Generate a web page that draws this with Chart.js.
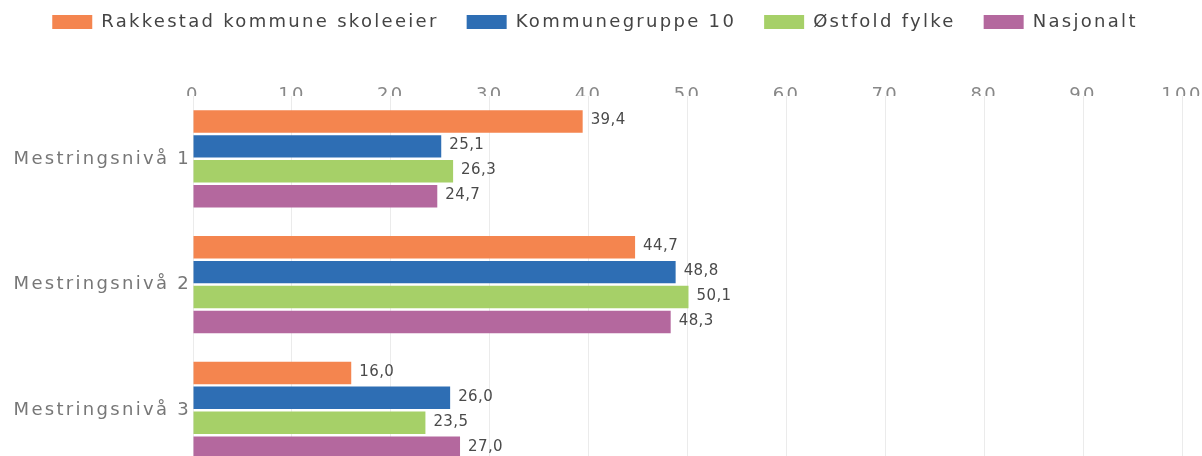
<!DOCTYPE html>
<html>
<head>
<meta charset="utf-8">
<script src="https://cdn.jsdelivr.net/npm/chart.js@4/dist/chart.umd.min.js"></script>
<style>
  html, body { margin: 0; padding: 0; background: #fff; overflow: hidden; }
  canvas { display: block; }
</style>
</head>
<body>
<canvas id="chart" width="1202" height="486"></canvas>
<script>
const categories = ['Mestringsnivå 1', 'Mestringsnivå 2', 'Mestringsnivå 3'];
const rakkestad = [39.4, 44.7, 16.0];
const kommunegruppe = [25.1, 48.8, 26.0];
const ostfold = [26.3, 50.1, 23.5];
const nasjonalt = [24.7, 48.3, 27.0];
const xTicks = [0, 10, 20, 30, 40, 50, 60, 70, 80, 90, 100];

const fontFamily = '"DejaVu Sans", Verdana, sans-serif';

// the original font is spaced out wider than DejaVu, so widen all text a bit
const spacing = {
  id: 'spacing',
  beforeUpdate(chart) { chart.ctx.letterSpacing = '2.3px'; },
  beforeDraw(chart) { chart.ctx.letterSpacing = '2.3px'; }
};

// value labels at the end of each bar, comma decimals
const barLabels = {
  id: 'barLabels',
  afterDatasetsDraw(chart) {
    const ctx = chart.ctx;
    ctx.save();
    ctx.letterSpacing = '0.4px';
    ctx.font = '15px ' + fontFamily;
    ctx.fillStyle = '#4a4a4a';
    ctx.textAlign = 'left';
    ctx.textBaseline = 'middle';
    chart.data.datasets.forEach((ds, i) => {
      chart.getDatasetMeta(i).data.forEach((bar, j) => {
        const txt = ds.data[j].toFixed(1).replace('.', ',');
        ctx.fillText(txt, bar.x + 8, bar.y - 1);
      });
    });
    ctx.restore();
  }
};

const ctx = document.getElementById('chart');
new Chart(ctx, {
  type: 'bar',
  data: {
    labels: categories,
    datasets: [
      { label: 'Rakkestad kommune skoleeier', data: rakkestad, backgroundColor: '#f4854f' },
      { label: 'Kommunegruppe 10', data: kommunegruppe, backgroundColor: '#2e6eb4' },
      { label: 'Østfold fylke', data: ostfold, backgroundColor: '#a6d068' },
      { label: 'Nasjonalt', data: nasjonalt, backgroundColor: '#b4689e' }
    ]
  },
  options: {
    indexAxis: 'y',
    responsive: false,
    animation: false,
    layout: { padding: { top: -15, right: 20, left: 8, bottom: 0 } },
    datasets: {
      bar: { categoryPercentage: 0.794, barPercentage: 0.9 }
    },
    plugins: {
      legend: {
        position: 'top',
        labels: {
          boxWidth: 40,
          boxHeight: 14,
          padding: 28,
          color: '#444',
          font: { family: fontFamily, size: 18 }
        }
      },
      tooltip: { enabled: false }
    },
    scales: {
      x: {
        position: 'top',
        min: 0,
        max: 100,
        afterBuildTicks(scale) { scale.ticks = xTicks.map(v => ({ value: v })); },
        ticks: { color: '#888', font: { family: fontFamily, size: 18 }, padding: -10 },
        grid: { color: '#ebebeb', drawTicks: false },
        border: { display: false },
        afterFit(scale) { scale.height = 55; }
      },
      y: {
        ticks: { color: '#777', font: { family: fontFamily, size: 18 }, padding: 2 },
        grid: { display: false, drawTicks: false },
        border: { display: false },
        afterFit(scale) { scale.width = 185; }
      }
    }
  },
  plugins: [spacing, barLabels]
});
</script>
</body>
</html>
